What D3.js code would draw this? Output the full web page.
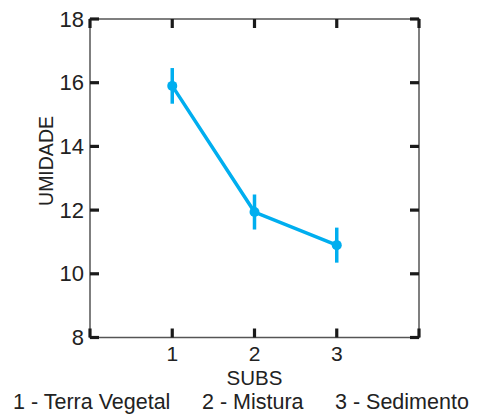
<!DOCTYPE html>
<html><head><meta charset="utf-8">
<script src="https://cdn.jsdelivr.net/npm/d3@7"></script>
<style>body{margin:0;background:#fff;}svg{display:block;font-family:"Liberation Sans",Arial,sans-serif;}</style>
</head><body>
<svg id="c" width="487" height="414"></svg>
<script>
const categories = [1, 2, 3];
const means = [15.9, 11.94, 10.9];
const errors = [0.56, 0.55, 0.55];
const yTicks = [8, 10, 12, 14, 16, 18];
const xTicks = [1, 2, 3];
const legendItems = ["1 - Terra Vegetal", "2 - Mistura", "3 - Sedimento"];

const svg = d3.select("#c");
const L = 90, R = 419, T = 19, B = 337.5;
const x = d3.scaleLinear().domain([0, 4]).range([L, R]);
const y = d3.scaleLinear().domain([8, 18]).range([B, T]);
const color = "#00AEEF";

svg.append("rect").attr("x", L).attr("y", T).attr("width", R - L).attr("height", B - T)
  .attr("fill", "none").attr("stroke", "#555").attr("stroke-width", 1.5);

const tk = 9, tw = 3.2;
yTicks.forEach(v => {
  svg.append("line").attr("x1", L).attr("x2", L + tk).attr("y1", y(v)).attr("y2", y(v)).attr("stroke", "#1a1a1a").attr("stroke-width", tw);
  svg.append("line").attr("x1", R - tk).attr("x2", R).attr("y1", y(v)).attr("y2", y(v)).attr("stroke", "#1a1a1a").attr("stroke-width", tw);
  svg.append("text").attr("x", L - 6).attr("y", y(v) + 7.5).attr("text-anchor", "end")
    .attr("font-size", 22).attr("fill", "#222").text(v);
});
[0, ...xTicks, 4].forEach(v => {
  svg.append("line").attr("x1", x(v)).attr("x2", x(v)).attr("y1", B).attr("y2", B - tk).attr("stroke", "#1a1a1a").attr("stroke-width", tw);
  svg.append("line").attr("x1", x(v)).attr("x2", x(v)).attr("y1", T).attr("y2", T + tk).attr("stroke", "#1a1a1a").attr("stroke-width", tw);
});
xTicks.forEach(v => {
  svg.append("text").attr("x", x(v)).attr("y", 361).attr("text-anchor", "middle")
    .attr("font-size", 21).attr("fill", "#222").text(v);
});

svg.append("text").attr("x", x(2)).attr("y", 385).attr("text-anchor", "middle")
  .attr("font-size", 20.5).attr("fill", "#222").text("SUBS");
svg.append("text").attr("transform", `translate(53,161) rotate(-90)`).attr("text-anchor", "middle")
  .attr("font-size", 19.5).attr("fill", "#222").text("UMIDADE");

const legX = [13, 202, 335];
legendItems.forEach((t, i) => {
  svg.append("text").attr("x", legX[i]).attr("y", 409).attr("font-size", 21.5).attr("fill", "#222").text(t);
});

const pts = categories.map((c, i) => ({c, m: means[i], e: errors[i]}));
svg.append("path").datum(pts)
  .attr("d", d3.line().x(d => x(d.c)).y(d => y(d.m)))
  .attr("fill", "none").attr("stroke", color).attr("stroke-width", 3.5);
svg.selectAll(".eb").data(pts).enter().append("line")
  .attr("x1", d => x(d.c)).attr("x2", d => x(d.c))
  .attr("y1", d => y(d.m + d.e)).attr("y2", d => y(d.m - d.e))
  .attr("stroke", color).attr("stroke-width", 3.5);
svg.selectAll(".pt").data(pts).enter().append("circle")
  .attr("cx", d => x(d.c)).attr("cy", d => y(d.m)).attr("r", 5).attr("fill", color);
</script>
</body></html>
